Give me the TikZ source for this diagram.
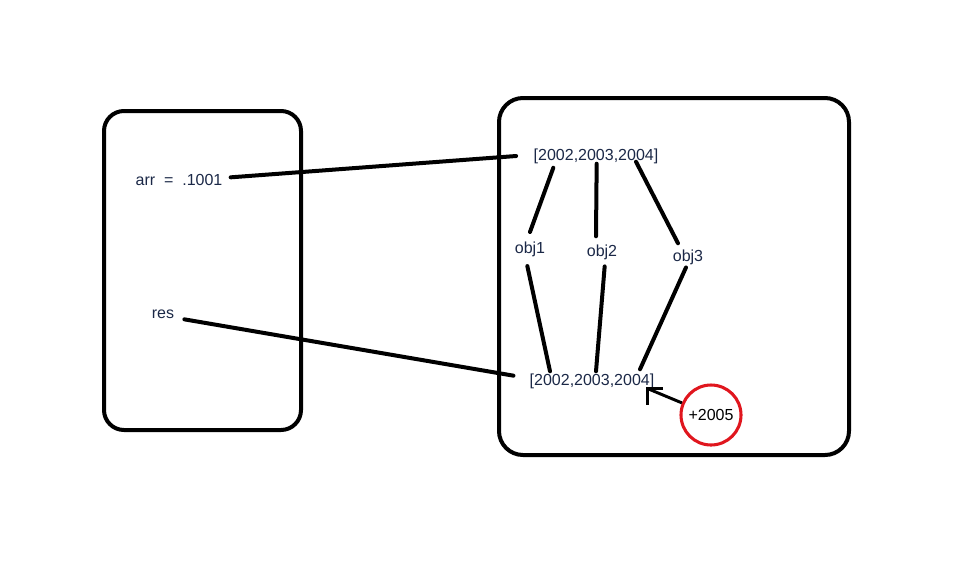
\documentclass[tikz,border=0pt]{standalone}
\usepackage{fontspec}
\setmainfont{Liberation Sans}
\usetikzlibrary{arrows.meta,positioning,calc}
\definecolor{TxtNavy}{HTML}{1B2847}
\definecolor{InkBlk}{HTML}{000000}
\definecolor{MarkRed}{HTML}{E0161E}
\tikzset{
  every picture/.append style={font=\fontsize{12}{14}\selectfont},
  frm/.style={draw=InkBlk, line width=3pt, rounded corners=#1},
  lbl/.style={text=TxtNavy, inner sep=0pt},
  link/.style={draw=InkBlk, line width=3pt, line cap=round},
  ptr/.style={draw=InkBlk, line width=2.2pt},
  ring/.style={circle, draw=MarkRed, line width=2.3pt, minimum size=45pt,
               inner sep=0pt, text=InkBlk},
}
\begin{document}
\begin{tikzpicture}[x=0.75pt,y=-0.75pt]
\useasboundingbox (0,0) rectangle (967,576);

% ---------------- frames ----------------------------------------------------------------------
\draw[frm=15pt] (104,111) rectangle (301,430);
\draw[frm=18pt] (499,98) rectangle (849,455);

% ---------------- left frame: variables -----------------------------------------------------
\node[lbl] (arrtxt) at (179,180) {arr\ \ =\ \ .1001};
\node[lbl] (restxt) at (163,314) {res};

% ---------------- right frame: arrays and objects --------------------------------------------
\node[lbl] (topArr) at (596,156) {[2002,2003,2004]};
\node[lbl] (botArr) at (592,381) {[2002,2003,2004]};
\node[lbl] (obj1) at (530,249) {obj1};
\node[lbl] (obj2) at (602,252) {obj2};
\node[lbl] (obj3) at (688,257) {obj3};
\node[ring] (plus) at (711,415) {+2005};
\coordinate (tip) at ([xshift=-5pt]botArr.south east);

% ---------------- references ------------------------------------------------------------------
\draw[link] ([xshift=6pt,yshift=2pt]arrtxt.east) -- ([xshift=-13pt]topArr.west);
\draw[link] ([xshift=7.5pt,yshift=-4pt]restxt.east) -- ([xshift=-12pt,yshift=4pt]botArr.west);

\draw[link] ([xshift=-32pt,yshift=-3pt]topArr.south) -- ([yshift=7pt]obj1.north);
\draw[link] ([xshift=0.5pt]topArr.south) -- ([xshift=-4.5pt,yshift=6pt]obj2.north);
\draw[link] ([xshift=30pt,yshift=1.5pt]topArr.south) -- ([xshift=-7.5pt,yshift=4.5pt]obj3.north);

\draw[link] ([xshift=-2pt,yshift=-7pt]obj1.south) -- ([xshift=-31.5pt,yshift=1.5pt]botArr.north);
\draw[link] ([xshift=2pt,yshift=-5pt]obj2.south) -- ([xshift=3pt,yshift=1.5pt]botArr.north);
\draw[link] ([xshift=-1.5pt,yshift=-2pt]obj3.south) -- ([xshift=36pt,yshift=3pt]botArr.north);

% ---------------- push arrow ------------------------------------------------------------------
\draw[ptr] (plus) -- (tip);
\draw[ptr] ([yshift=-12pt]tip) -- (tip) -- ([xshift=11pt]tip);

\end{tikzpicture}
\end{document}
